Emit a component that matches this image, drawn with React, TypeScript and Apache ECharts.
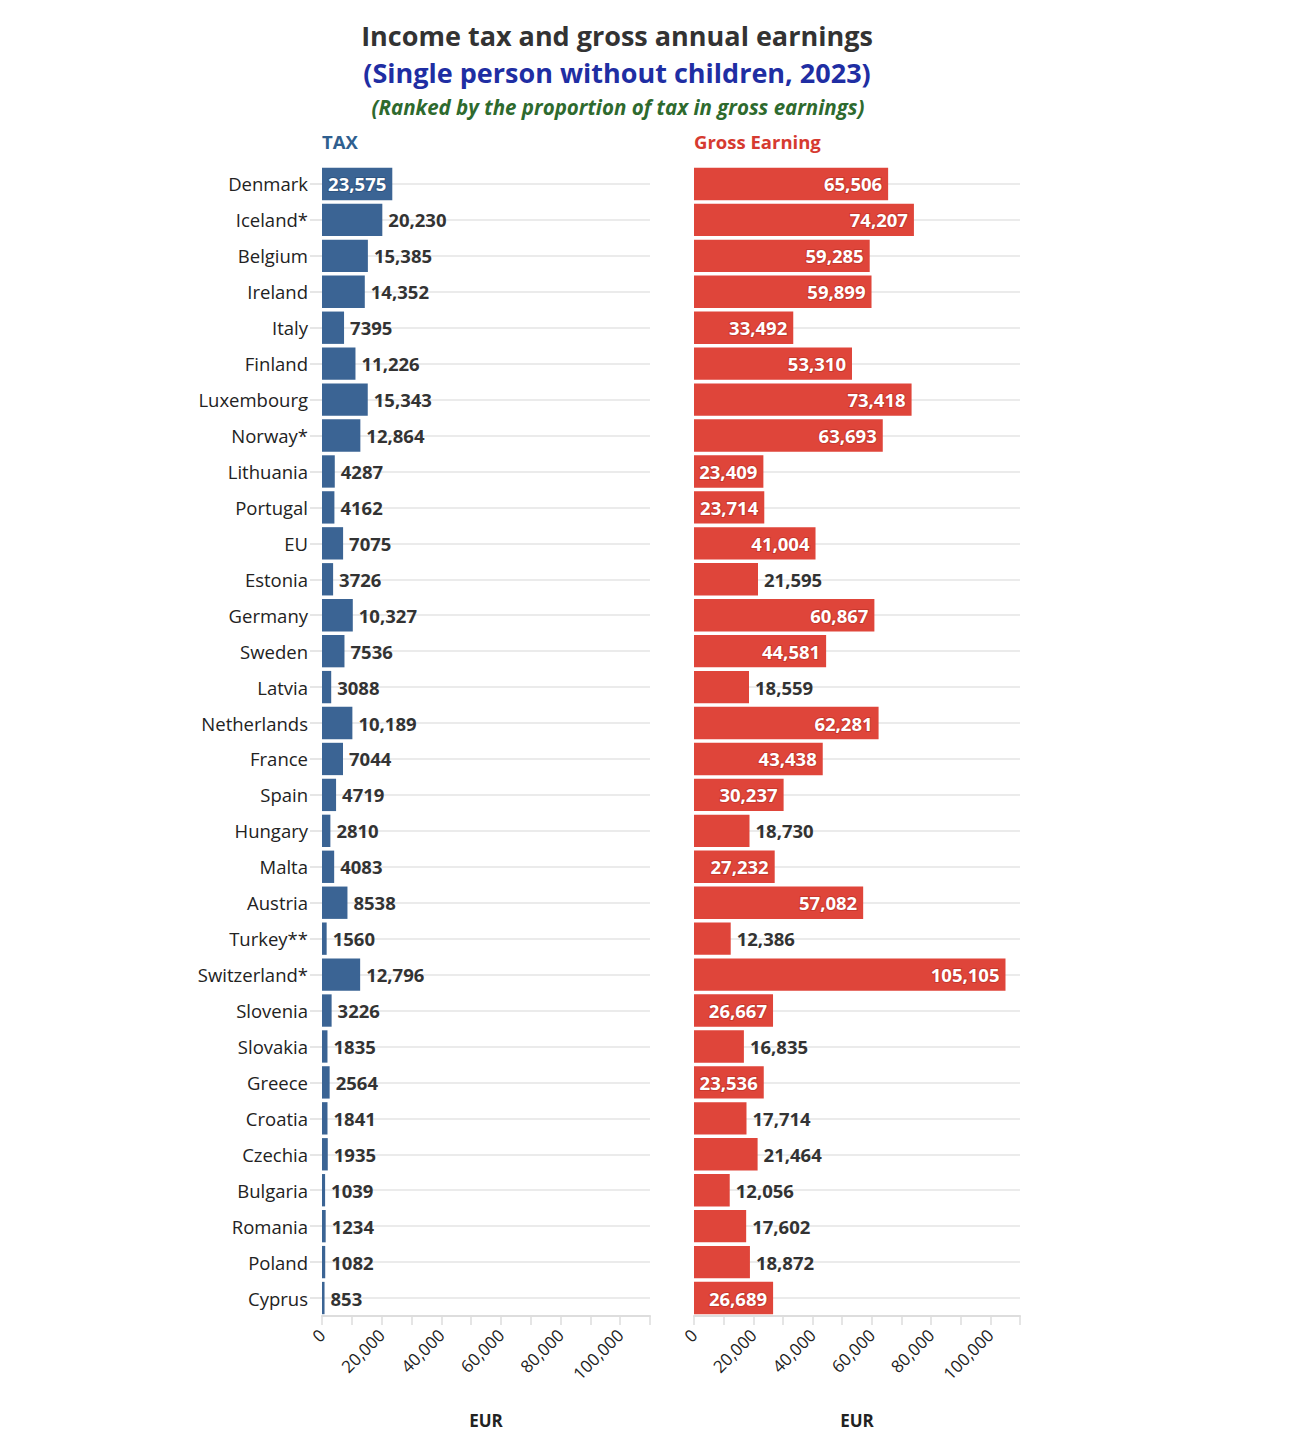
import React, { useEffect, useRef } from "react";
import * as echarts from "echarts";

const countries = [
  "Denmark", "Iceland*", "Belgium", "Ireland", "Italy", "Finland", "Luxembourg", "Norway*",
  "Lithuania", "Portugal", "EU", "Estonia", "Germany", "Sweden", "Latvia", "Netherlands",
  "France", "Spain", "Hungary", "Malta", "Austria", "Turkey**", "Switzerland*", "Slovenia",
  "Slovakia", "Greece", "Croatia", "Czechia", "Bulgaria", "Romania", "Poland", "Cyprus",
];

const taxValues = [
  23575, 20230, 15385, 14352, 7395, 11226, 15343, 12864,
  4287, 4162, 7075, 3726, 10327, 7536, 3088, 10189,
  7044, 4719, 2810, 4083, 8538, 1560, 12796, 3226,
  1835, 2564, 1841, 1935, 1039, 1234, 1082, 853,
];

const grossValues = [
  65506, 74207, 59285, 59899, 33492, 53310, 73418, 63693,
  23409, 23714, 41004, 21595, 60867, 44581, 18559, 62281,
  43438, 30237, 18730, 27232, 57082, 12386, 105105, 26667,
  16835, 23536, 17714, 21464, 12056, 17602, 18872, 26689,
];

const BLUE = "#3b6494";
const BLUE_DARK = "#2f5581";
const RED = "#df453a";
const RED_DARK = "#c8382e";
const FONT = "'Open Sans', 'Noto Sans', sans-serif";

const fmt = (v: number) => (v >= 10000 ? v.toLocaleString("en-US") : String(v));

function makeData(values: number[], dark: string) {
  return values.map((v) => {
    const inside = v >= 22000;
    return {
      value: v,
      label: {
        show: true,
        position: inside ? "insideRight" : "right",
        distance: 6,
        color: inside ? "#ffffff" : "#333333",
        textBorderColor: inside ? dark : "transparent",
        textBorderWidth: inside ? 2 : 0,
        fontFamily: FONT,
        fontSize: 18.5,
        fontWeight: "bold",
        formatter: () => fmt(v),
      },
    };
  });
}

export default function App() {
  const ref = useRef<HTMLDivElement>(null);

  useEffect(() => {
    document.body.style.margin = "0";
    if (!ref.current) return;
    const chart = echarts.init(ref.current, undefined, { renderer: "svg" });

    const xAxisBase = (gridIndex: number) => ({
      type: "value",
      gridIndex,
      min: 0,
      max: 110000,
      interval: 10000,
      name: "EUR",
      nameLocation: "middle",
      nameGap: 96,
      nameTextStyle: { fontFamily: FONT, fontSize: 17, fontWeight: "bold", color: "#222" },
      axisLine: { show: true, lineStyle: { color: "#dddddd", width: 2 } },
      axisTick: { show: true, length: 9, lineStyle: { color: "#dddddd", width: 1.5 } },
      splitLine: { show: false },
      axisLabel: {
        rotate: 45,
        margin: 16,
        fontFamily: FONT,
        fontSize: 17,
        color: "#222",
        formatter: (v: number) =>
          v % 20000 === 0 && v <= 100000 ? v.toLocaleString("en-US") : "",
      },
    });

    const yAxisBase = (gridIndex: number, showLabels: boolean) => ({
      type: "category",
      gridIndex,
      data: countries,
      inverse: true,
      axisLine: { show: false },
      axisTick: {
        show: showLabels,
        alignWithLabel: true,
        length: 12,
        lineStyle: { color: "#e6e6e6", width: 2 },
      },
      axisLabel: {
        show: showLabels,
        margin: 14,
        fontFamily: FONT,
        fontSize: 18.5,
        color: "#222",
      },
      splitLine: {
        show: true,
        alignWithLabel: true,
        lineStyle: { color: "#ebebeb", width: 2 },
      },
    });

    chart.setOption({
      animation: false,
      backgroundColor: "#ffffff",
      textStyle: { fontFamily: FONT },
      grid: [
        { left: 322, width: 328, top: 166, height: 1150 },
        { left: 694, width: 326, top: 166, height: 1150 },
      ],
      xAxis: [xAxisBase(0), xAxisBase(1)],
      yAxis: [yAxisBase(0, true), yAxisBase(1, false)],
      series: [
        {
          type: "bar",
          name: "TAX",
          xAxisIndex: 0,
          yAxisIndex: 0,
          barCategoryGap: "10%",
          itemStyle: { color: BLUE },
          data: makeData(taxValues, BLUE_DARK),
        },
        {
          type: "bar",
          name: "Gross Earning",
          xAxisIndex: 1,
          yAxisIndex: 1,
          barCategoryGap: "10%",
          itemStyle: { color: RED },
          data: makeData(grossValues, RED_DARK),
        },
      ],
      graphic: [
        {
          type: "text",
          x: 617,
          y: 35,
          style: {
            text: "Income tax and gross annual earnings",
            textAlign: "center",
            textVerticalAlign: "middle",
            font: `bold 27px ${FONT}`,
            lineHeight: 30,
            fill: "#333333",
          },
        },
        {
          type: "text",
          x: 617,
          y: 72,
          style: {
            text: "(Single person without children, 2023)",
            textAlign: "center",
            textVerticalAlign: "middle",
            font: `bold 27px ${FONT}`,
            lineHeight: 30,
            fill: "#1f2ea3",
          },
        },
        {
          type: "text",
          x: 618,
          y: 107,
          style: {
            text: "(Ranked by the proportion of tax in gross earnings)",
            textAlign: "center",
            textVerticalAlign: "middle",
            font: `italic bold 20.5px ${FONT}`,
            fill: "#2e6a2e",
          },
        },
        {
          type: "text",
          x: 322,
          y: 141,
          style: {
            text: "TAX",
            textAlign: "left",
            textVerticalAlign: "middle",
            font: `bold 18.5px ${FONT}`,
            fill: "#2f5f8f",
          },
        },
        {
          type: "text",
          x: 694,
          y: 141,
          style: {
            text: "Gross Earning",
            textAlign: "left",
            textVerticalAlign: "middle",
            font: `bold 18.5px ${FONT}`,
            fill: "#d63a30",
          },
        },
      ],
    });

    return () => chart.dispose();
  }, []);

  return <div ref={ref} style={{ width: 1310, height: 1452 }} />;
}
